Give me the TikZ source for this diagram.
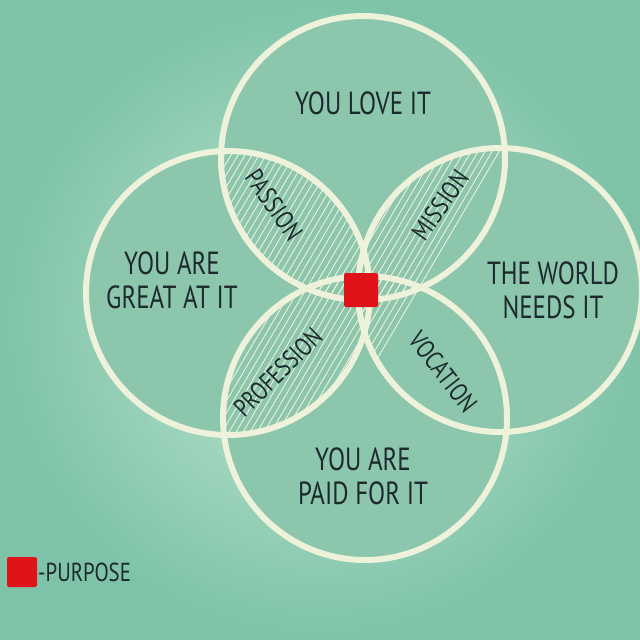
\documentclass[tikz,border=0pt]{standalone}
\usepackage{fontspec}
\setmainfont{PT Sans}
\definecolor{bgc}{HTML}{A8DCC0}
\definecolor{bgd}{HTML}{7EC3A8}
\definecolor{fillc}{HTML}{8CC6AC}
\definecolor{rim}{HTML}{EEF2DA}
\definecolor{ink}{HTML}{1C2A2E}
\definecolor{sq}{HTML}{E0131B}
\tikzset{
  ring/.style={draw=rim, line width=6pt},
  word/.style={text=ink, font=\fontsize{32}{34}\selectfont, align=center, xscale=0.78},
  petal/.style={text=ink, font=\fontsize{26}{26}\selectfont, inner sep=1pt},
}
\newcommand{\hatchpair}[2]{%
  \begin{scope}
    \clip #1 circle (142);
    \clip #2 circle (142);
    \foreach \k in {0,7,...,700}{
      \draw[rim, line width=0.9pt] (\k-100,-20) -- (\k-500,660);
    }
  \end{scope}}
\begin{document}
\begin{tikzpicture}[x=1pt,y=-1pt]
	\shade[inner color=bgc!70!white, outer color=bgd] (0,0) rectangle (640,640);
	\useasboundingbox (0,0) rectangle (640,640);
	\coordinate (ct) at (363,158);
	\coordinate (cl) at (228,293);
	\coordinate (cr) at (500,290);
	\coordinate (cb) at (365,418);
	\foreach \c in {ct,cl,cr,cb}{
	  \fill[fillc] (\c) circle (142);
	}
	\hatchpair{(ct)}{(cl)}
	\hatchpair{(ct)}{(cr)}
	\hatchpair{(cl)}{(cb)}
	\hatchpair{(cr)}{(cb)}
	\foreach \c in {ct,cl,cr,cb}{
	  \draw[ring] (\c) circle (142);
	}
	\node[word] (love) at (363,103) {YOU LOVE IT};
	\node[word] (great) at (172,280) {YOU ARE\\GREAT AT IT};
	\node[word] (world) at (553,290) {THE WORLD\\NEEDS IT};
	\node[word] (paid) at (363,476) {YOU ARE\\PAID FOR IT};
	\node[petal, rotate=-55, xscale=0.8] (passion) at (274,205) {PASSION};
	\node[petal, rotate=55, xscale=0.8] (mission) at (440,205) {MISSION};
	\node[petal, rotate=45, xscale=0.78] (profession) at (278,372) {PROFESSION};
	\node[petal, rotate=-52, xscale=0.8] (vocation) at (443,372) {VOCATION};
	\node[fill=sq, minimum size=34pt, rounded corners=2pt] (purpose) at (361,290) {};
	\node[fill=sq, minimum size=30pt, rounded corners=2pt] (key) at (22,572) {};
	\node[petal, anchor=west, xscale=0.8] (keytext) at (key.east) {-PURPOSE};
\end{tikzpicture}
\end{document}
